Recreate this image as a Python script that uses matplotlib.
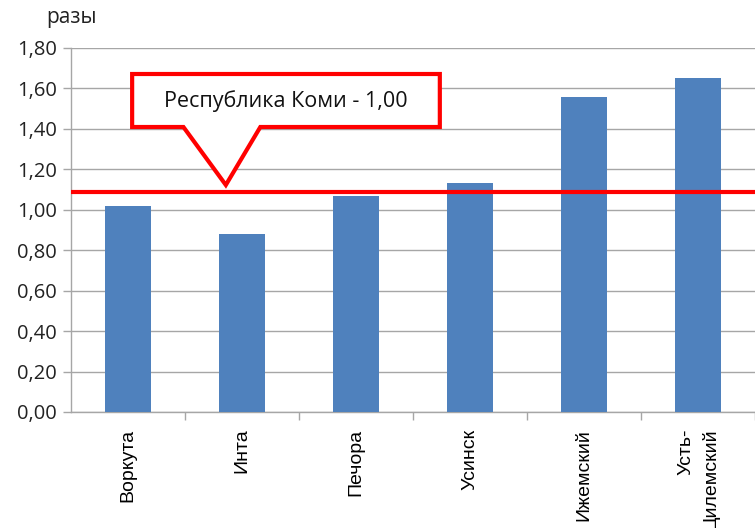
import matplotlib
matplotlib.use("Agg")
import matplotlib.pyplot as plt
from matplotlib.patches import Polygon

categories = ["Воркута", "Инта", "Печора", "Усинск", "Ижемский", "Усть-\nЦилемский"]
values = [1.02, 0.88, 1.07, 1.13, 1.56, 1.65]
republic_level = 1.09
callout_text = "Республика Коми - 1,00"
y_ticks = [0.0, 0.2, 0.4, 0.6, 0.8, 1.0, 1.2, 1.4, 1.6, 1.8]
y_tick_labels = [f"{v:.2f}".replace(".", ",") for v in y_ticks]

plt.rcParams['font.family'] = ['Open Sans', 'DejaVu Sans']

W, H = 755, 528
fig = plt.figure(figsize=(W / 100, H / 100), dpi=100)
left_px, right_px, top_px, bottom_px = 71, 755, 48, 412
ax = fig.add_axes([left_px / W, (H - bottom_px) / H, (right_px - left_px) / W, (bottom_px - top_px) / H])

cat_w = 115.6
xs = list(range(len(categories)))
ax.bar(xs, values, width=0.41, color="#4F81BD", zorder=3)
ax.set_xlim(-0.5, -0.5 + (right_px - left_px) / cat_w)
ax.set_ylim(0, 1.8)

ax.set_yticks(y_ticks)
ax.set_yticklabels(y_tick_labels, fontsize=14.5, color="#222222")
ax.yaxis.grid(True, color="#A6A6A6", linewidth=1.0, zorder=0)
ax.set_axisbelow(True)

ax.set_xticks(xs)
ax.set_xticklabels(categories, rotation=90, fontsize=14, family=["Liberation Sans", "DejaVu Sans"],
                   va="top", ha="center", multialignment="right", linespacing=1.5)
ax.set_xticks([i + 0.5 for i in xs], minor=True)
ax.tick_params(axis="x", which="major", length=0, pad=12)
ax.tick_params(axis="x", which="minor", length=6, color="#A6A6A6", width=1)
ax.tick_params(axis="y", length=6, color="#A6A6A6", width=1, pad=4)

for s in ["top", "right"]:
    ax.spines[s].set_visible(False)
for s in ["left", "bottom"]:
    ax.spines[s].set_color("#A6A6A6")
    ax.spines[s].set_linewidth(1.0)

ax.axhline(republic_level, color="#FF0000", linewidth=3, zorder=4)

# callout (positioned in axes data coordinates)
def px2x(p):
    return -0.5 + (p - left_px) / cat_w

def py2y(p):
    return (bottom_px - p) * 1.8 / (bottom_px - top_px)

bx0, bx1, by0, by1 = px2x(133), px2x(445), py2y(127), py2y(74)
pts = [(bx0, by1), (bx1, by1), (bx1, by0), (px2x(263), by0), (px2x(228), py2y(185)),
       (px2x(185), by0), (bx0, by0)]
poly = Polygon(pts, closed=True, facecolor="white", edgecolor="#FF0000", linewidth=3,
               joinstyle="miter", zorder=5, clip_on=False)
ax.add_patch(poly)
ax.text((bx0 + bx1) / 2, py2y(101.5), callout_text, ha="center", va="center",
        fontsize=15.5, color="#111111", zorder=6)

fig.text(71.5 / W, 1 - 18 / H, "разы", ha="center", va="center", fontsize=15, color="#222222")

fig.savefig("out.png", dpi=100)
